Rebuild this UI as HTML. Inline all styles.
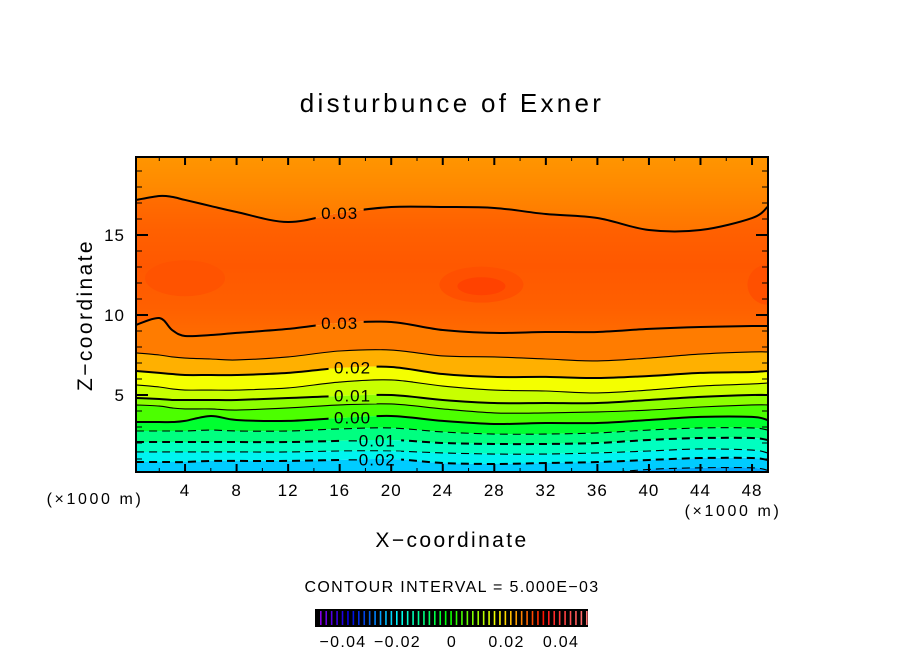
<!DOCTYPE html>
<html><head><meta charset="utf-8"><style>
html,body{margin:0;padding:0;background:#fff;}
svg{display:block;font-family:"Liberation Sans",sans-serif;}
</style></head><body>
<svg id="chart" width="904" height="654" viewBox="0 0 904 654">
<defs>
<clipPath id="plotclip"><rect x="136" y="157" width="632" height="315"/></clipPath>
<linearGradient id="topgrad" x1="0" y1="0" x2="0" y2="1">
<stop offset="0" stop-color="#ff9c00"/><stop offset="0.5" stop-color="#ff8a00"/><stop offset="1" stop-color="#ff7400"/></linearGradient>
<linearGradient id="midgrad" x1="0" y1="0" x2="0" y2="1">
<stop offset="0" stop-color="#ff6e00"/><stop offset="0.25" stop-color="#ff6000"/><stop offset="0.5" stop-color="#ff5800"/><stop offset="0.8" stop-color="#ff6000"/><stop offset="1" stop-color="#ff6c00"/></linearGradient>
<mask id="labelmask"><rect x="0" y="0" width="904" height="654" fill="#fff"/><g id="maskholes"></g></mask>
</defs>
<text x="452" y="112" text-anchor="middle" font-size="26" letter-spacing="3.3">disturbunce of Exner</text>
<g clip-path="url(#plotclip)" id="fills"></g>
<g clip-path="url(#plotclip)" mask="url(#labelmask)" id="lines"></g>
<g id="clabels"></g>
<rect x="136" y="157" width="632" height="315" fill="none" stroke="#000" stroke-width="2"/>
<g id="axes"></g>
<text x="95" y="504" text-anchor="middle" font-size="16" letter-spacing="2.6">(×1000 m)</text>
<text x="733" y="516" text-anchor="middle" font-size="16" letter-spacing="2.6">(×1000 m)</text>
<text x="452" y="547" text-anchor="middle" font-size="21" letter-spacing="2.4">X−coordinate</text>
<text transform="translate(92,315) rotate(-90)" text-anchor="middle" font-size="21" letter-spacing="2.4">Z−coordinate</text>
<text x="452" y="592" text-anchor="middle" font-size="16" letter-spacing="1.35">CONTOUR INTERVAL = 5.000E−03</text>
<rect x="315" y="609" width="273" height="18" fill="#000"/>
<g id="cbar"></g>
</svg>
<script>
const xs = [0.2,2,3,4,6,8,12,16,20,24,28,32,36,40,44,48,49.2];
const levels = [0.03,0.03,0.025,0.02,0.015,0.01,0.005,0.0,-0.005,-0.01,-0.015,-0.02,-0.025];
const zUp30 = [17.19,17.44,17.38,17.19,16.81,16.44,15.81,16.38,16.75,16.75,16.69,16.31,16.06,15.31,15.31,16.06,16.75];
const zLo30 = [9.38,9.81,9.06,8.69,8.75,8.88,9.13,9.5,9.56,9.06,8.88,8.94,8.94,9.13,9.25,9.31,9.31];
const z25 = [7.63,7.5,7.38,7.31,7.25,7.19,7.38,7.75,7.81,7.44,7.38,7.25,7.13,7.31,7.56,7.69,7.69];
const z20 = [6.5,6.38,6.31,6.25,6.25,6.25,6.38,6.69,6.75,6.31,6.13,6.13,6.06,6.19,6.38,6.44,6.5];
const z15 = [5.63,5.5,5.38,5.31,5.31,5.31,5.44,5.81,5.94,5.56,5.31,5.25,5.13,5.31,5.56,5.69,5.75];
const z10 = [4.81,4.75,4.69,4.69,4.69,4.69,4.81,4.94,5.0,4.69,4.5,4.5,4.5,4.69,4.88,5.0,5.0];
const z05 = [4.38,4.31,4.19,4.13,4.13,4.06,4.19,4.38,4.44,4.13,3.88,3.88,3.94,4.06,4.25,4.38,4.38];
const z00 = [3.31,3.31,3.31,3.38,3.69,3.44,3.38,3.56,3.69,3.38,3.19,3.25,3.25,3.44,3.63,3.63,3.44];
const zM05 = [2.75,2.75,2.75,2.75,2.81,2.75,2.75,2.88,2.94,2.69,2.56,2.56,2.63,2.81,2.94,2.94,2.81];
const zM10 = [2.06,2.06,2.06,2.06,2.06,2.06,2.06,2.13,2.19,2.0,1.94,1.94,2.0,2.19,2.31,2.31,2.19];
const zM15 = [1.44,1.44,1.44,1.44,1.44,1.44,1.44,1.5,1.5,1.38,1.31,1.31,1.38,1.5,1.63,1.56,1.38];
const zM20 = [0.81,0.81,0.81,0.81,0.88,0.88,0.88,0.94,1.0,0.75,0.69,0.75,0.81,0.94,1.06,1.06,0.94];
const zM25 = [0,0,0,0,0,0,0,0,0,0,0,0,0.1,0.35,0.45,0.45,0.3];
const xTicks = [4,8,12,16,20,24,28,32,36,40,44,48];
const yTicks = [5,10,15];
const cbarTicks = [-0.04,-0.02,0,0.02,0.04];
const cbarTickLabels = ["−0.04","−0.02","0","0.02","0.04"];

const NS="http://www.w3.org/2000/svg";
const xPx = x => 133.5 + 12.886*x;
const yPx = z => 475 - 16*z;
const lines=[zUp30,zLo30,z25,z20,z15,z10,z05,z00,zM05,zM10,zM15,zM20,zM25];
const bandColors=["url(#topgrad)","url(#midgrad)","#ff7c00","#ffb000","#f4ff00","#c8ff00","#8cff00","#4cff00","#00ff30","#00ff80","#00ffc0","#00f4f0","#00ccff","#00a8ff"];
function pts(arr){return arr.map((z,i)=>[xPx(xs[i]),yPx(z)]);}
function smooth(p){let d="M"+p[0][0]+","+p[0][1];
 for(let i=0;i<p.length-1;i++){const p0=p[i-1]||p[i],p1=p[i],p2=p[i+1],p3=p[i+2]||p2;
  d+=" C"+(p1[0]+(p2[0]-p0[0])/6)+","+(p1[1]+(p2[1]-p0[1])/6)+" "+(p2[0]-(p3[0]-p1[0])/6)+","+(p2[1]-(p3[1]-p1[1])/6)+" "+p2[0]+","+p2[1];}
 return d;}
function smoothRev(p){return smooth(p.slice().reverse()).replace(/^M/,"L");}
const fills=document.getElementById("fills");
const L=120,R=790,T=140,B=490;
for(let b=0;b<=lines.length;b++){
 let d;
 if(b===0){const p=pts(lines[0]);d="M"+L+","+T+" L"+R+","+T+" L"+R+","+p[p.length-1][1]+" "+smoothRev(p)+" L"+L+","+p[0][1]+"Z";}
 else if(b===lines.length){const p=pts(lines[b-1]);d="M"+L+","+p[0][1]+" L"+smooth(p).slice(1)+" L"+R+","+p[p.length-1][1]+" L"+R+","+B+" L"+L+","+B+"Z";}
 else{const p=pts(lines[b-1]),q=pts(lines[b]);d="M"+L+","+p[0][1]+" L"+smooth(p).slice(1)+" L"+R+","+p[p.length-1][1]+" L"+R+","+q[q.length-1][1]+" "+smoothRev(q)+" L"+L+","+q[0][1]+"Z";}
 const el=document.createElementNS(NS,"path");el.setAttribute("d",d);el.setAttribute("fill",bandColors[b]);
 
 
 fills.appendChild(el);
}
[[27,11.8,24,9,"#ff4200"],[4,12.3,40,18,"#ff5300"],[27,11.9,42,18,"#ff5000"],[49.2,11.9,20,20,"#ff5000"]].forEach(b=>{
 const e=document.createElementNS(NS,"ellipse");e.setAttribute("cx",xPx(b[0]));e.setAttribute("cy",yPx(b[1]));e.setAttribute("rx",b[2]);e.setAttribute("ry",b[3]);e.setAttribute("fill",b[4]);
 
 
 fills.insertBefore(e,fills.children[2]);
});
const lg=document.getElementById("lines");
lines.forEach((arr,i)=>{
 const lev=levels[i];const major=Math.abs(Math.round(lev*1000)%10)===0;
 const el=document.createElementNS(NS,"path");el.setAttribute("d",smooth(pts(arr)));el.setAttribute("fill","none");
 el.setAttribute("stroke","#000");el.setAttribute("stroke-width",major?2:1.1);
 if(lev<0)el.setAttribute("stroke-dasharray","8,5");
 
 
 lg.appendChild(el);
});
const labs=[["0.03",16,zUp30],["0.03",16,zLo30],["0.02",17,z20],["0.01",17,z10],["0.00",17,z00],["−0.01",18.5,zM10],["−0.02",18.5,zM20]];
const mh=document.getElementById("maskholes"),cl=document.getElementById("clabels");
labs.forEach(l=>{
 const x=l[1];let i=0;while(xs[i+1]<x)i++;const t=(x-xs[i])/(xs[i+1]-xs[i]);const z=l[2][i]+(l[2][i+1]-l[2][i])*t;
 const px=xPx(x),py=yPx(z);const w=l[0].length*10.5;
 const r=document.createElementNS(NS,"rect");r.setAttribute("x",px-w/2-3);r.setAttribute("y",py-8);r.setAttribute("width",w+6);r.setAttribute("height",16);r.setAttribute("fill","#000");mh.appendChild(r);
 const tx=document.createElementNS(NS,"text");tx.setAttribute("x",px);tx.setAttribute("y",py+6);tx.setAttribute("text-anchor","middle");tx.setAttribute("font-size","17");tx.setAttribute("letter-spacing","1");tx.textContent=l[0];
 
 
 cl.appendChild(tx);
});
const ax=document.getElementById("axes");
function ln(x1,y1,x2,y2,w){const e=document.createElementNS(NS,"line");e.setAttribute("x1",x1);e.setAttribute("y1",y1);e.setAttribute("x2",x2);e.setAttribute("y2",y2);e.setAttribute("stroke","#000");e.setAttribute("stroke-width",w);
 
 
 ax.appendChild(e);}
for(let x=2;x<=49;x+=2){const maj=x%4===0,h=maj?8:4,px=xPx(x);ln(px,472,px,472-h,maj?2:1);ln(px,157,px,157+h,maj?2:1);}
for(let z=1;z<=19;z++){const maj=z%5===0,h=maj?12:6,py=yPx(z);ln(136,py,136+h,py,maj?2:1);ln(768,py,768-h,py,maj?2:1);}
xTicks.forEach(v=>{const t=document.createElementNS(NS,"text");t.setAttribute("x",xPx(v));t.setAttribute("y",496);t.setAttribute("text-anchor","middle");t.setAttribute("font-size","17");t.setAttribute("letter-spacing","1");t.textContent=v;
 
 
 ax.appendChild(t);});
yTicks.forEach(v=>{const t=document.createElementNS(NS,"text");t.setAttribute("x",125);t.setAttribute("y",yPx(v)+6);t.setAttribute("text-anchor","end");t.setAttribute("font-size","17");t.setAttribute("letter-spacing","1");t.textContent=v;
 
 
 ax.appendChild(t);});
const cb=document.getElementById("cbar");
const cx=v=>452+v*2725;
for(let i=0;i<50;i++){const f=i/49;const px=320+f*266;
 let col;if(f<0.85){col="hsl("+(275-f/0.85*275)+",100%,"+(f<0.2?45:50)+"%)";}else{col="hsl(0,100%,"+(55+(f-0.85)*120)+"%)";}
 const e=document.createElementNS(NS,"rect");e.setAttribute("x",px);e.setAttribute("y",611);e.setAttribute("width",1.6);e.setAttribute("height",14);e.setAttribute("fill",col);
 
 
 cb.appendChild(e);}
cbarTicks.forEach((v,i)=>{const t=document.createElementNS(NS,"text");t.setAttribute("x",cx(v));t.setAttribute("y",647);t.setAttribute("text-anchor","middle");t.setAttribute("font-size","16");t.setAttribute("letter-spacing","1.3");t.textContent=cbarTickLabels[i];
 
 
 cb.appendChild(t);});
</script>
</body></html>
